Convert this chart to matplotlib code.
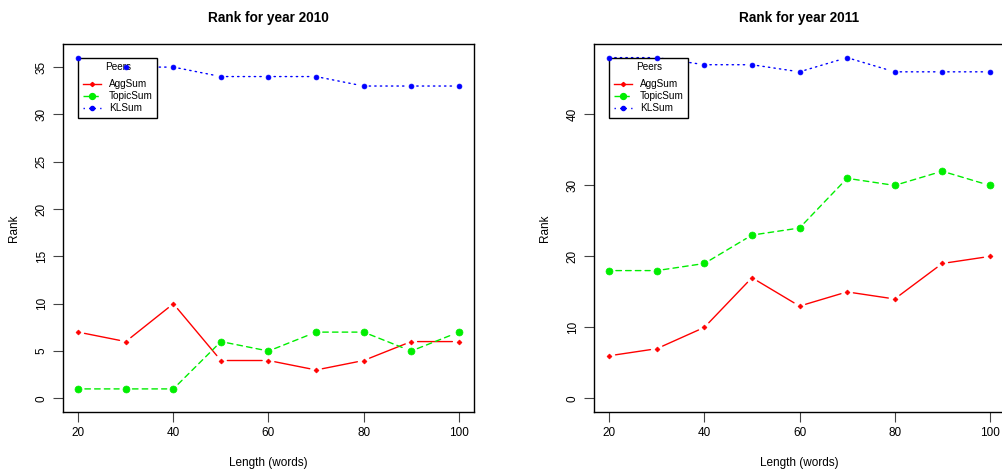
import matplotlib
matplotlib.use("Agg")
import matplotlib.pyplot as plt
from matplotlib.patches import FancyArrowPatch
from matplotlib.lines import Line2D

plt.rcParams['font.family'] = ['Liberation Sans', 'DejaVu Sans']

lengths = [20, 30, 40, 50, 60, 70, 80, 90, 100]

agg_2010 = [7, 6, 10, 4, 4, 3, 4, 6, 6]
topic_2010 = [1, 1, 1, 6, 5, 7, 7, 5, 7]
kl_2010 = [36, 35, 35, 34, 34, 34, 33, 33, 33]

agg_2011 = [6, 7, 10, 17, 13, 15, 14, 19, 20]
topic_2011 = [18, 18, 19, 23, 24, 31, 30, 32, 30]
kl_2011 = [48, 48, 47, 47, 46, 48, 46, 46, 46]

titles = ["Rank for year 2010", "Rank for year 2011"]
series_names = ["AggSum", "TopicSum", "KLSum"]
yticks_list = [[0, 5, 10, 15, 20, 25, 30, 35], [0, 10, 20, 30, 40]]
ymax_list = [36, 48]
xticks = [20, 40, 60, 80, 100]

styles = [
    dict(color='#ff0000', ls='-', marker='D', ms=2.5, shrink=4.6),
    dict(color='#00ee00', ls=(0, (4, 3)), marker='o', ms=5.0, shrink=4.8),
    dict(color='#0000ff', ls=(0, (1, 3)), marker='o', ms=3.5, shrink=4.0),
]

W, H = 1002, 474
fig = plt.figure(figsize=(W / 100, H / 100), dpi=100)

data = [(agg_2010, topic_2010, kl_2010), (agg_2011, topic_2011, kl_2011)]
lefts = [63, 594]

for i in range(2):
    ax = fig.add_axes([lefts[i] / W, (H - 412) / H, 411 / W, 368 / H])
    xr = max(lengths) - min(lengths)
    ax.set_xlim(min(lengths) - 0.04 * xr, max(lengths) + 0.04 * xr)
    yr = ymax_list[i]
    ax.set_ylim(-0.04 * yr, yr + 0.04 * yr)
    handles = []
    for vals, st, name in zip(data[i], styles, series_names):
        # segments with gaps around points (R type = "b")
        for k in range(len(lengths) - 1):
            p = FancyArrowPatch((lengths[k], vals[k]), (lengths[k + 1], vals[k + 1]),
                                arrowstyle='-', shrinkA=st['shrink'], shrinkB=st['shrink'],
                                color=st['color'], lw=1.0, linestyle=st['ls'],
                                transform=ax.transData, mutation_scale=1)
            ax.add_patch(p)
        ax.plot(lengths, vals, ls='none', marker=st['marker'], ms=st['ms'],
                color=st['color'], mec=st['color'], mew=0.5, zorder=3)
        handles.append(Line2D([], [], color=st['color'], ls=st['ls'], lw=1.0,
                              marker=st['marker'], ms=st['ms'] * 0.85,
                              mec=st['color']))
    ax.set_xticks(xticks)
    ax.set_yticks(yticks_list[i])
    ax.tick_params(axis='both', direction='out', length=7, width=0.8,
                   color='#444444', labelsize=8.5, pad=4)
    for lab in ax.get_yticklabels():
        lab.set_rotation(90)
        lab.set_va('center')
    for sp in ax.spines.values():
        sp.set_linewidth(1.0)
        sp.set_color('black')
    ax.set_xlabel("Length (words)", fontsize=8.5, labelpad=13)
    ax.set_ylabel("Rank", fontsize=8.5, labelpad=11)
    ax.set_title(titles[i], fontsize=9.8, fontweight='bold', pad=16)
    leg = ax.legend(handles, series_names, title="Peers", loc='upper left',
                    bbox_to_anchor=(min(lengths), ymax_list[i]),
                    bbox_transform=ax.transData, borderaxespad=0,
                    fontsize=7.2, title_fontsize=7.2, fancybox=False, framealpha=1,
                    edgecolor='black', handlelength=1.8, handletextpad=0.8,
                    labelspacing=0.22, borderpad=0.45, frameon=True)
    leg._legend_box.sep = 5
    leg.get_frame().set_linewidth(1.0)
    leg.set_zorder(2.5)

fig.savefig("out.png", dpi=100)
